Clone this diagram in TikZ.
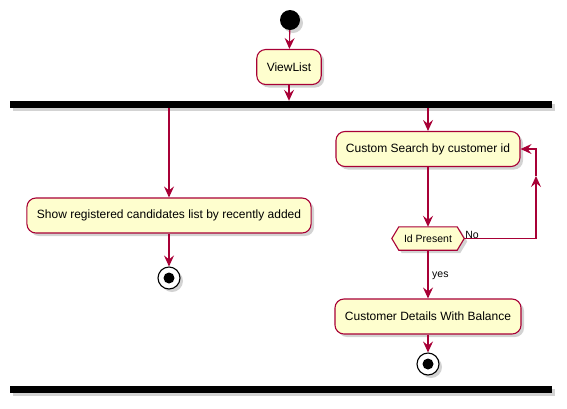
\documentclass[tikz,border=0pt]{standalone}
\usepackage{fontspec}
\setmainfont{Liberation Sans}
\usetikzlibrary{arrows.meta,shadows}
\definecolor{umlred}{HTML}{A80036}
\definecolor{umlfill}{HTML}{FEFECE}
\tikzset{
  shad/.style={drop shadow={opacity=0.35,shadow xshift=3pt,shadow yshift=-3pt}},
  act/.style={draw=umlred,fill=umlfill,line width=1.1pt,rounded corners=9pt,
    minimum height=35pt,inner xsep=10pt,font=\fontsize{12}{14}\selectfont,shad},
  startnode/.style={circle,fill=black,minimum size=20pt,inner sep=0pt,shad},
  stopnode/.style={circle,draw=black,line width=1.1pt,fill=white,minimum size=22pt,inner sep=0pt,shad,
    path picture={\fill[black] (path picture bounding box.center) circle (5.5pt);}},
  bar/.style={fill=black,minimum width=542pt,minimum height=7pt,inner sep=0pt,shad},
  arr/.style={draw=umlred,line width=1.1pt,-{Stealth[length=11pt,width=10pt,inset=4pt]}},
  lbl/.style={font=\fontsize{10.5}{12}\selectfont,inner sep=0pt},
}
\begin{document}
\begin{tikzpicture}[x=1pt,y=-1pt]
\useasboundingbox (0,0) rectangle (567,408);
\node[startnode] (start) at (290,20) {};
\node[act] (view) at (289,67) {ViewList};
\node[bar] (fork) at (281,104.5) {};
\node[act] (show) at (169,215.5) {Show registered candidates list by recently added};
\node[stopnode] (stop1) at (169,278) {};
\node[act] (cs) at (428,149) {Custom Search by customer id};
\node[minimum width=58pt,minimum height=23pt,inner sep=0pt,lbl] (hex) at (428,238.5) {};
\draw[umlred,fill=umlfill,line width=1.1pt,shad]
  (hex.north west) -- (hex.north east) -- ([xshift=7pt]hex.east) -- (hex.south east)
  -- (hex.south west) -- ([xshift=-7pt]hex.west) -- cycle;
\node[lbl] (hextext) at (hex) {Id Present};
\coordinate (hexR) at ([xshift=7pt]hex.east);
\node[act] (cd) at (428,316.5) {Customer Details With Balance};
\node[stopnode] (stop2) at (428,364) {};
\node[bar] (join) at (281,389) {};
\coordinate (f1) at (fork.south -| show.north);
\coordinate (f2) at (fork.south -| cs.north);
\coordinate (loopA) at (536,238.5);
\coordinate (loopB) at (536,176);
\coordinate (loopC) at (536,149);
\draw[arr] (start) -- (view);
\draw[arr] (view) -- (view |- fork.north);
\draw[arr] (f1) -- (show);
\draw[arr] (show) -- (stop1);
\draw[arr] (f2) -- (cs);
\draw[arr] (cs) -- (hex.north);
\draw[arr] (hexR) -- (loopA) -- (loopB);
\draw[arr] (loopB) -- (loopC) -- (cs.east);
\draw[arr] (hex.south) -- (cd);
\draw[arr] (cd) -- (stop2);
\node[lbl,anchor=south west] (no) at ([xshift=1pt,yshift=-0.5pt]hexR) {No};
\node[lbl,anchor=west] (yes) at (432,276) {yes};
\end{tikzpicture}
\end{document}
